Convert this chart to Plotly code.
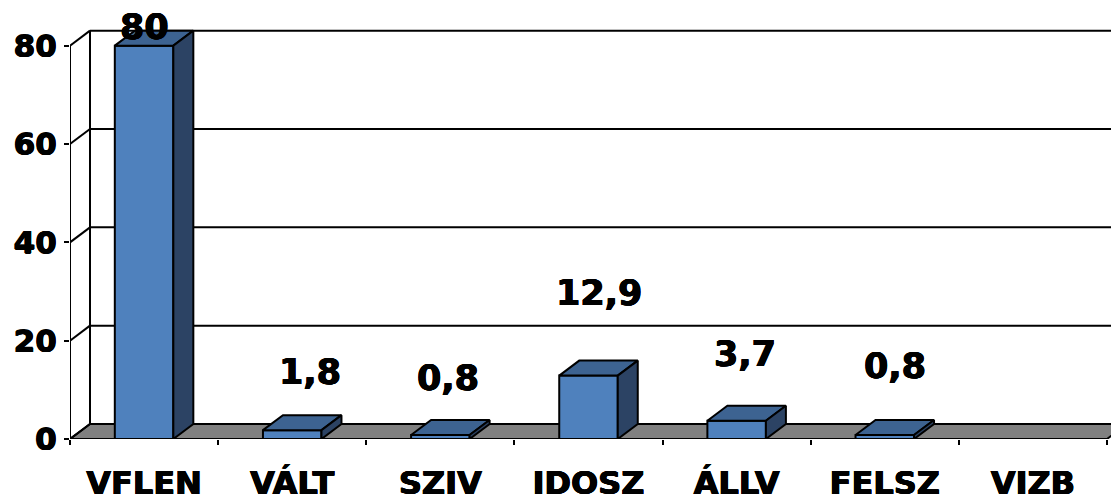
import plotly.graph_objects as go

categories = ["VFLEN", "VÁLT", "SZIV", "IDOSZ", "ÁLLV", "FELSZ", "VIZB"]
values = [80, 1.8, 0.8, 12.9, 3.7, 0.8, 0]
value_labels = ["80", "1,8", "0,8", "12,9", "3,7", "0,8", ""]
y_ticks = [0, 20, 40, 60, 80]

# label nudges (px)
label_dx = [0, 18, 8, 10, 8, 10, 0]
label_dy = [19, 58, 57, 83, 67, 69, 0]

# pseudo-3D depth and geometry, in axis units
DX, DY = 0.135, 3.05
BAR_W = 0.395
X_MAX = 7.027
Y_MAX = 84
N = len(categories)

FRONT, TOP, SIDE = "#4F81BD", "#3D6391", "#2C4364"
FONT = "DejaVu Sans"
BOLD = "0.6px 0 0 black, -0.6px 0 0 black, 0 0.4px 0 black, 0 -0.4px 0 black"
centers = [i + 0.5 for i in range(N)]

fig = go.Figure()

# front faces
vis = [i for i, v in enumerate(values) if v > 0]
fig.add_trace(go.Bar(
    x=[centers[i] for i in vis], y=[values[i] for i in vis], width=BAR_W,
    marker=dict(color=FRONT, line=dict(color="black", width=2)),
    hoverinfo="skip", showlegend=False,
))

def poly(xs, ys, color):
    fig.add_trace(go.Scatter(
        x=xs + xs[:1], y=ys + ys[:1], mode="lines", fill="toself", fillcolor=color,
        line=dict(color="black", width=2), cliponaxis=False,
        hoverinfo="skip", showlegend=False,
    ))

# top and side faces
for i in vis:
    c, v = centers[i], values[i]
    l, r = c - BAR_W / 2, c + BAR_W / 2
    poly([l, r, r + DX, l + DX], [v, v, v + DY, v + DY], TOP)
    poly([r, r + DX, r + DX, r], [0, DY, v + DY, v], SIDE)

# front axis lines
for xs, ys in (([0, 0], [0, 80]), ([0, N], [0, 0])):
    fig.add_trace(go.Scatter(
        x=xs, y=ys, mode="lines", line=dict(color="black", width=2),
        cliponaxis=False, hoverinfo="skip", showlegend=False,
    ))

shapes = [
    dict(type="path", layer="below", xref="x", yref="y",
         path=f"M0,0 L{DX},{DY} L{N + DX},{DY} L{N},0 Z",
         fillcolor="#808080", line=dict(color="black", width=2)),
    dict(type="line", layer="below", xref="x", yref="y",
         x0=DX, x1=DX, y0=DY, y1=80 + DY, line=dict(color="black", width=2)),
]
for t in y_ticks:
    shapes.append(dict(type="line", layer="below", xref="x", yref="y",
                       x0=0, y0=t, x1=DX, y1=t + DY, line=dict(color="black", width=2)))
    if t > 0:
        shapes.append(dict(type="line", layer="below", xref="x", yref="y",
                           x0=DX, y0=t + DY, x1=N + DX, y1=t + DY,
                           line=dict(color="black", width=2)))

annotations = [
    dict(x=centers[i], y=values[i], xref="x", yref="y", text=value_labels[i],
         showarrow=False, xanchor="center", yanchor="middle",
         xshift=label_dx[i], yshift=label_dy[i],
         font=dict(family=FONT, size=35, color="black", weight=700, shadow=BOLD))
    for i in vis
]

fig.update_layout(
    width=1111, height=496, autosize=False,
    margin=dict(l=70, r=0, t=26, b=57, pad=0),
    paper_bgcolor="white", plot_bgcolor="white",
    showlegend=False, shapes=shapes, annotations=annotations,
    xaxis=dict(
        range=[0, X_MAX], tickmode="array", tickvals=centers, ticktext=categories,
        ticks="", showgrid=False, zeroline=False, showline=False, automargin=False,
        tickangle=0, ticklabelstandoff=22,
        tickfont=dict(family=FONT, size=32, color="black", weight=700, shadow=BOLD),
        minor=dict(tickmode="array", tickvals=list(range(N + 1)), ticks="outside",
                   ticklen=5, tickwidth=2, tickcolor="black", showgrid=False),
    ),
    yaxis=dict(
        range=[0, Y_MAX], tickmode="array", tickvals=y_ticks,
        ticks="outside", ticklen=5, tickwidth=2, tickcolor="black",
        showgrid=False, zeroline=False, showline=False, automargin=False,
        ticklabelstandoff=1,
        tickfont=dict(family=FONT, size=31, color="black", weight=700, shadow=BOLD),
    ),
)

fig.write_html(
    "out.html",
    config={"displayModeBar": False},
    post_script="document.body.style.margin='0';document.documentElement.style.overflow='hidden';",
)
